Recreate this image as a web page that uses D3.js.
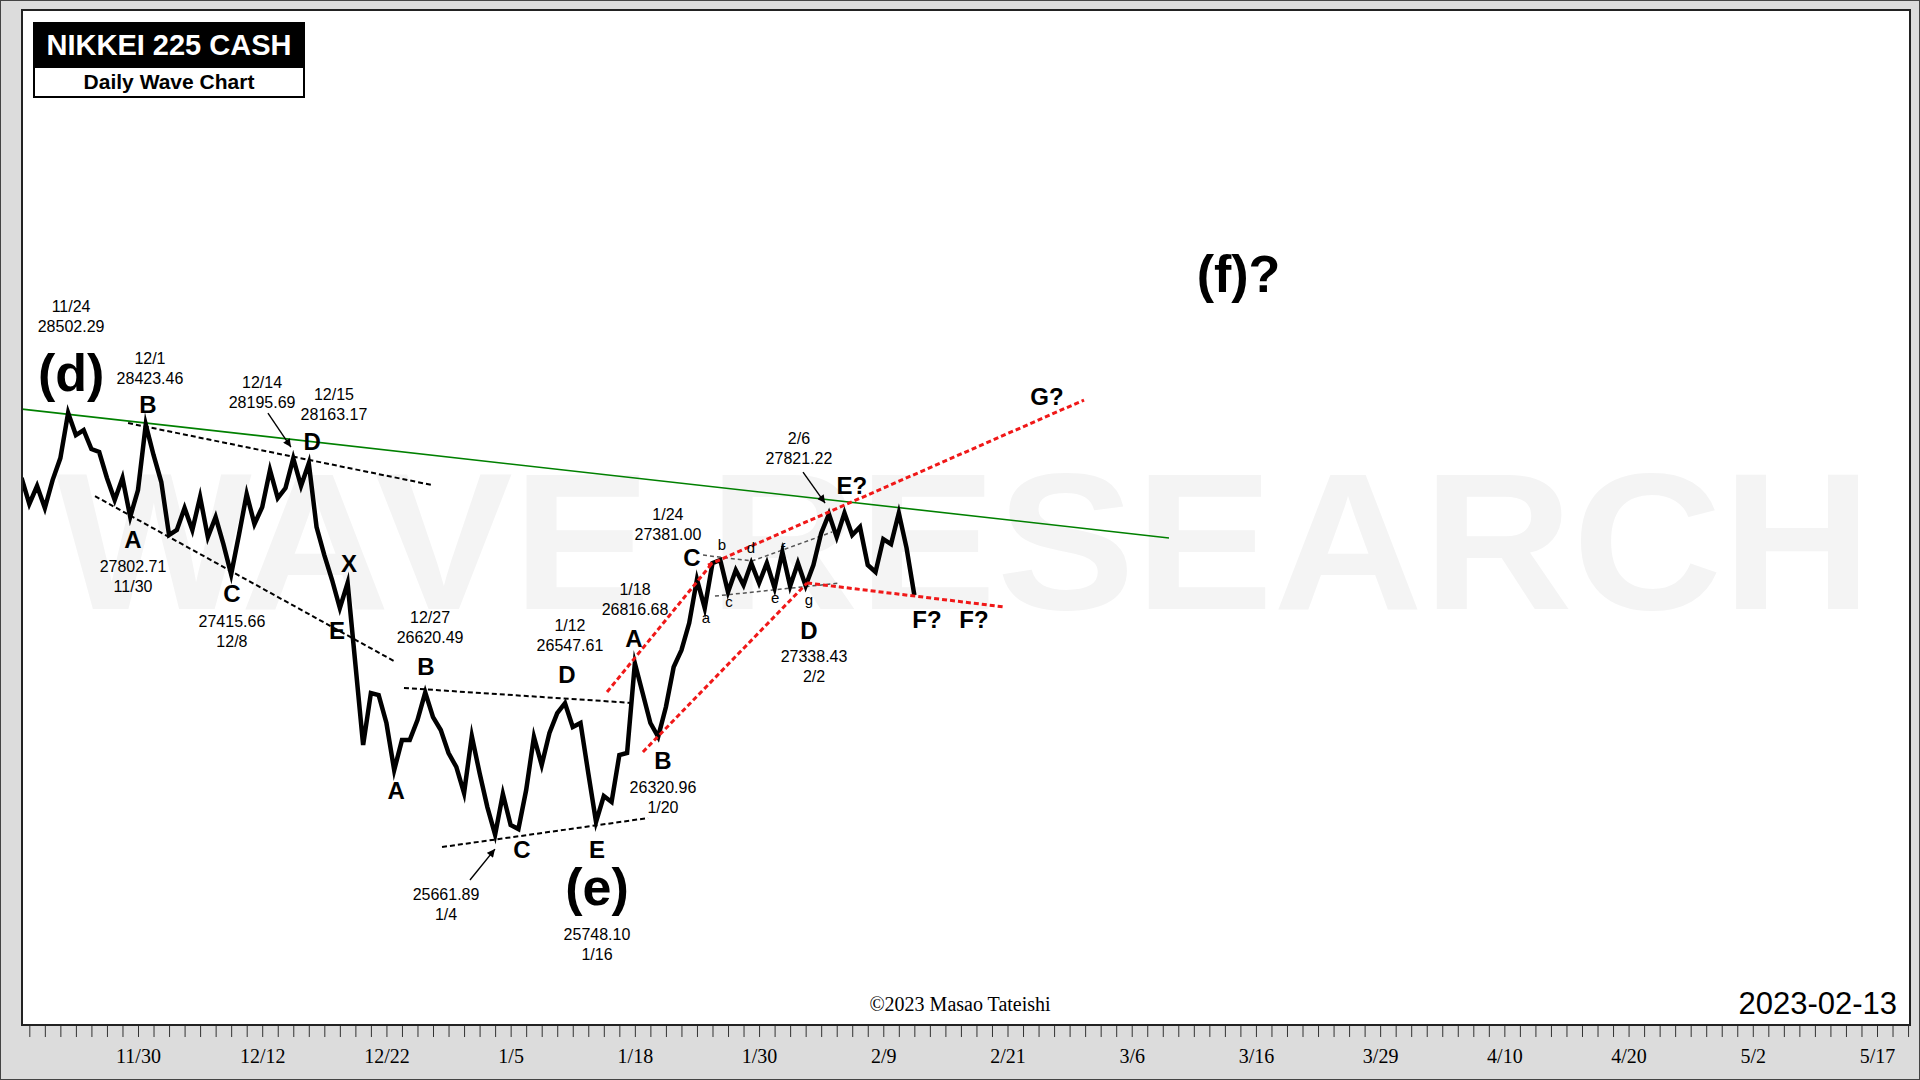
<!DOCTYPE html>
<html><head><meta charset="utf-8">
<script src="https://cdn.jsdelivr.net/npm/d3@7"></script>
<style>html,body{margin:0;padding:0;background:#fff;} svg{display:block}</style>
</head><body>
<svg id="chart" width="1920" height="1080"></svg>
<script>
// ---------- DATA ----------
// Trading days shown (index 0 of axis = 11/30)
const tradeDates = ["11/18","11/21","11/22","11/24","11/25","11/28","11/29","11/30","12/1","12/2",
  "12/5","12/6","12/7","12/8","12/9","12/12","12/13","12/14","12/15","12/16",
  "12/19","12/20","12/21","12/22","12/23","12/26","12/27","12/28","12/29","12/30",
  "1/4","1/5","1/6","1/10","1/11","1/12","1/13","1/16","1/17","1/18",
  "1/19","1/20","1/23","1/24","1/25","1/26","1/27","1/30","1/31","2/1",
  "2/2","2/3","2/6","2/7","2/8","2/9","2/10","2/13"];
const firstDayIndex = -7;
// first and second extreme of each day (wave chart: high/low in time order)
const waveFirst = [28064,28010,28050,28502.29,28387,28239,27916,27802.71,28423.46,28037,
  27714,27714,27666,27619,27680,27754,28118,27996,28010,27734,
  27377,27357,26266,26602,26097,26299,26620.49,26367,26118,26326,
  25848,25936,25700,26320,26347,26547.61,26414,25748.10,25882,26212,
  26616,26320.96,26791,27087,27188,27512,27444,27491,27491,27565,
  27491,27478,27821.22,27828,27734,27431,27619,27592];
const waveSecond = [27889,27862,28198,28353,28259,28064,28064,27983,28219,27680,
  27862,27936,27801,27415.66,27956,27868,27929,28195.69,28163.17,27545,
  27188,26811,26616,26414,26299,26434,26454,26212,25942,26077,
  25661.89,25727,25963,26131,26481,26387,26077,25922,26198,26816.68,
  26414,26522,26905,27381.00,27491,27296,27343,27357,27323,27336,
  27338.43,27693,27666,27680,27478,27653,27828,27276];

const axisLabels = ["11/30","12/12","12/22","1/5","1/18","1/30","2/9","2/21","3/6","3/16","3/29","4/10","4/20","5/2","5/17"];
const axisLabelStep = 8;
const tickFirst = -7, tickLast = 114;

// trend lines [dayIndex, price]
const greenLine = [[-7.47, 28528],[66.40, 27660]];
const blackDotted = [
  [[-0.64, 28434],[18.93, 28017]],
  [[-2.77, 27942],[16.49, 26831]],
  [[17.13, 26650],[32.01, 26548]],
  [[19.58, 25579],[32.85, 25774]]
];
const redDotted = [
  [[30.21, 26623],[37.04, 27498]],
  [[36.71, 27478],[60.93, 28589]],
  [[32.52, 26219],[43.09, 27357]],
  [[43.09, 27357],[55.84, 27195]]
];
const grayDashed = [
  [[36.39, 27545],[39.55, 27505],[44.70, 27700]],
  [[37.16, 27269],[45.21, 27357]]
];
const arrows = [
  [[8.37, 28501],[9.85, 28272]],
  [[21.38, 25357],[22.99, 25565]],
  [[42.83, 28104],[44.25, 27895]]
];

const bigLabels = [
  {t:"(d)", d:-4.31, v:28649.5},
  {t:"(e)", d:29.56, v:25188.2},
  {t:"(f)?", d:70.88, v:29316.2}
];
const waveLabels = [
  {t:"B", d:0.64, v:28501},{t:"A", d:-0.32, v:27592},{t:"C", d:6.05, v:27229},
  {t:"D", d:11.21, v:28252},{t:"X", d:13.59, v:27431},{t:"E", d:12.82, v:26980},
  {t:"B", d:18.55, v:26737},{t:"A", d:16.62, v:25902},{t:"C", d:24.73, v:25505},
  {t:"D", d:27.63, v:26683},{t:"E", d:29.56, v:25505},{t:"A", d:31.94, v:26926},
  {t:"B", d:33.81, v:26104},{t:"C", d:35.68, v:27471},{t:"D", d:43.21, v:26980},
  {t:"E?", d:45.98, v:27956},{t:"F?", d:50.81, v:27054},{t:"F?", d:53.84, v:27054},
  {t:"G?", d:58.54, v:28555}
];
const smallLabels = [
  {t:"a", d:36.58, v:27087},{t:"b", d:37.61, v:27579},{t:"c", d:38.06, v:27195},
  {t:"d", d:39.48, v:27559},{t:"e", d:41.03, v:27222},{t:"f", d:41.54, v:27552},
  {t:"g", d:43.21, v:27208}
];
const priceNotes = [
  {a:"11/24", b:"28502.29", d:-4.31, v:29181.5},
  {a:"12/1", b:"28423.46", d:0.77, v:28831.3},
  {a:"12/14", b:"28195.69", d:7.99, v:28669.7},
  {a:"12/15", b:"28163.17", d:12.62, v:28588.9},
  {a:"27802.71", b:"11/30", d:-0.32, v:27430.6},
  {a:"27415.66", b:"12/8", d:6.05, v:27060.3},
  {a:"12/27", b:"26620.49", d:18.81, v:27087.2},
  {a:"1/12", b:"26547.61", d:27.82, v:27033.3},
  {a:"1/18", b:"26816.68", d:32.01, v:27275.8},
  {a:"26320.96", b:"1/20", d:33.81, v:25942.4},
  {a:"25661.89", b:"1/4", d:19.84, v:25221.9},
  {a:"25748.10", b:"1/16", d:29.56, v:24952.5},
  {a:"1/24", b:"27381.00", d:34.13, v:27780.8},
  {a:"27338.43", b:"2/2", d:43.54, v:26824.6},
  {a:"2/6", b:"27821.22", d:42.57, v:28292.6}
];

// ---------- DRAW ----------
const W = 1920, H = 1080;
const plot = {l:22, t:10, r:1910, b:1025};
const svg = d3.select("#chart");
const SANS = "'Liberation Sans', Arial, sans-serif";
const SERIF = "'Liberation Serif', 'Times New Roman', serif";

const x = d3.scaleLinear().domain([0, 112]).range([138, 1877]);
const y = d3.scaleLinear().domain([25000, 29000]).range([933, 339]);

// outer frame
svg.append("rect").attr("x",0.5).attr("y",0.5).attr("width",W-1).attr("height",H-1)
  .attr("fill","#dcdcdc").attr("stroke","#444").attr("stroke-width",1);
svg.append("rect").attr("x",plot.l).attr("y",plot.t).attr("width",plot.r-plot.l).attr("height",plot.b-plot.t)
  .attr("fill","#fff");

const defs = svg.append("defs");
defs.append("clipPath").attr("id","clip").append("rect")
  .attr("x",plot.l).attr("y",plot.t).attr("width",plot.r-plot.l).attr("height",plot.b-plot.t);
defs.append("marker").attr("id","arrowhead").attr("viewBox","0 0 10 10").attr("refX",10).attr("refY",5)
  .attr("markerWidth",9).attr("markerHeight",8).attr("markerUnits","userSpaceOnUse").attr("orient","auto")
  .append("path").attr("d","M0,0 L10,5 L0,10 z").attr("fill","#000");

// watermark
svg.append("text").attr("x",56).attr("y",609)
  .attr("font-family",SANS).attr("font-weight","bold").attr("font-size",194)
  .attr("fill","#f4f4f4").attr("textLength",1816).attr("lengthAdjust","spacingAndGlyphs")
  .text("WAVE RESEARCH");

const g = svg.append("g").attr("clip-path","url(#clip)");
const line = d3.line().x(p => x(p[0])).y(p => y(p[1]));

// green trend line
g.append("path").attr("d", line(greenLine)).attr("fill","none").attr("stroke","#008000").attr("stroke-width",1.6);

// black dotted
blackDotted.forEach(seg => g.append("path").attr("d", line(seg)).attr("fill","none")
  .attr("stroke","#000").attr("stroke-width",2).attr("stroke-dasharray","5,3"));
// gray dashed
grayDashed.forEach(seg => g.append("path").attr("d", line(seg)).attr("fill","none")
  .attr("stroke","#555").attr("stroke-width",1.5).attr("stroke-dasharray","4,3"));

// price wave line
const wavePoints = [];
tradeDates.forEach((dt, i) => {
  const di = firstDayIndex + i;
  wavePoints.push([di - 0.5, waveFirst[i]]);
  wavePoints.push([di, waveSecond[i]]);
});
g.append("path").attr("d", line(wavePoints)).attr("fill","none").attr("stroke","#000")
  .attr("stroke-width",4.5).attr("stroke-linejoin","miter").attr("stroke-miterlimit",6);

// red dotted
redDotted.forEach(seg => g.append("path").attr("d", line(seg)).attr("fill","none")
  .attr("stroke","#f01818").attr("stroke-width",3).attr("stroke-dasharray","5,3"));

// arrows
arrows.forEach(seg => svg.append("path").attr("d", line(seg)).attr("fill","none")
  .attr("stroke","#000").attr("stroke-width",1.4).attr("marker-end","url(#arrowhead)"));

// labels
svg.append("g").selectAll("text").data(bigLabels).join("text")
  .attr("x", d => x(d.d)).attr("y", d => y(d.v)).attr("text-anchor","middle")
  .attr("font-family",SANS).attr("font-weight","bold").attr("font-size",52).text(d => d.t);
svg.append("g").selectAll("text").data(waveLabels).join("text")
  .attr("x", d => x(d.d)).attr("y", d => y(d.v)).attr("text-anchor","middle")
  .attr("font-family",SANS).attr("font-weight","bold").attr("font-size",24).text(d => d.t);
svg.append("g").selectAll("text").data(smallLabels).join("text")
  .attr("x", d => x(d.d)).attr("y", d => y(d.v)).attr("text-anchor","middle")
  .attr("font-family",SANS).attr("font-size",15).text(d => d.t);
const notes = svg.append("g").selectAll("text").data(priceNotes).join("text")
  .attr("x", d => x(d.d)).attr("y", d => y(d.v)).attr("text-anchor","middle")
  .attr("font-family",SANS).attr("font-size",16);
notes.append("tspan").text(d => d.a);
notes.append("tspan").attr("x", d => x(d.d)).attr("dy",19.5).text(d => d.b);

// title box
svg.append("rect").attr("x",33).attr("y",22).attr("width",272).attr("height",45).attr("fill","#000");
svg.append("rect").attr("x",34).attr("y",67).attr("width",270).attr("height",30)
  .attr("fill","#fff").attr("stroke","#000").attr("stroke-width",2);
svg.append("text").attr("x",169).attr("y",55).attr("text-anchor","middle")
  .attr("font-family",SANS).attr("font-weight","bold").attr("font-size",29).attr("fill","#fff")
  .text("NIKKEI 225 CASH");
svg.append("text").attr("x",169).attr("y",89).attr("text-anchor","middle")
  .attr("font-family",SANS).attr("font-weight","bold").attr("font-size",21).attr("fill","#000")
  .text("Daily Wave Chart");

// copyright & date
svg.append("text").attr("x",960).attr("y",1011).attr("text-anchor","middle")
  .attr("font-family",SERIF).attr("font-size",20).text("\u00A92023 Masao Tateishi");
svg.append("text").attr("x",1897).attr("y",1014).attr("text-anchor","end")
  .attr("font-family",SANS).attr("font-size",31).text("2023-02-13");

// plot border
svg.append("rect").attr("x",plot.l).attr("y",plot.t).attr("width",plot.r-plot.l).attr("height",plot.b-plot.t)
  .attr("fill","none").attr("stroke","#222").attr("stroke-width",2);

// axis
const axis = d3.axisBottom(x)
  .tickValues(d3.range(tickFirst, tickLast + 1))
  .tickSize(11).tickPadding(12)
  .tickFormat(d => (d >= 0 && d % axisLabelStep === 0 && d / axisLabelStep < axisLabels.length) ? axisLabels[d / axisLabelStep] : "");
const ax = svg.append("g").attr("transform", `translate(0,${plot.b + 1})`).call(axis);
ax.select(".domain").remove();
ax.selectAll(".tick line").attr("stroke","#333").attr("stroke-width",1);
ax.selectAll(".tick text").attr("font-family",SERIF).attr("font-size",20).attr("fill","#000");
</script>
</body></html>
